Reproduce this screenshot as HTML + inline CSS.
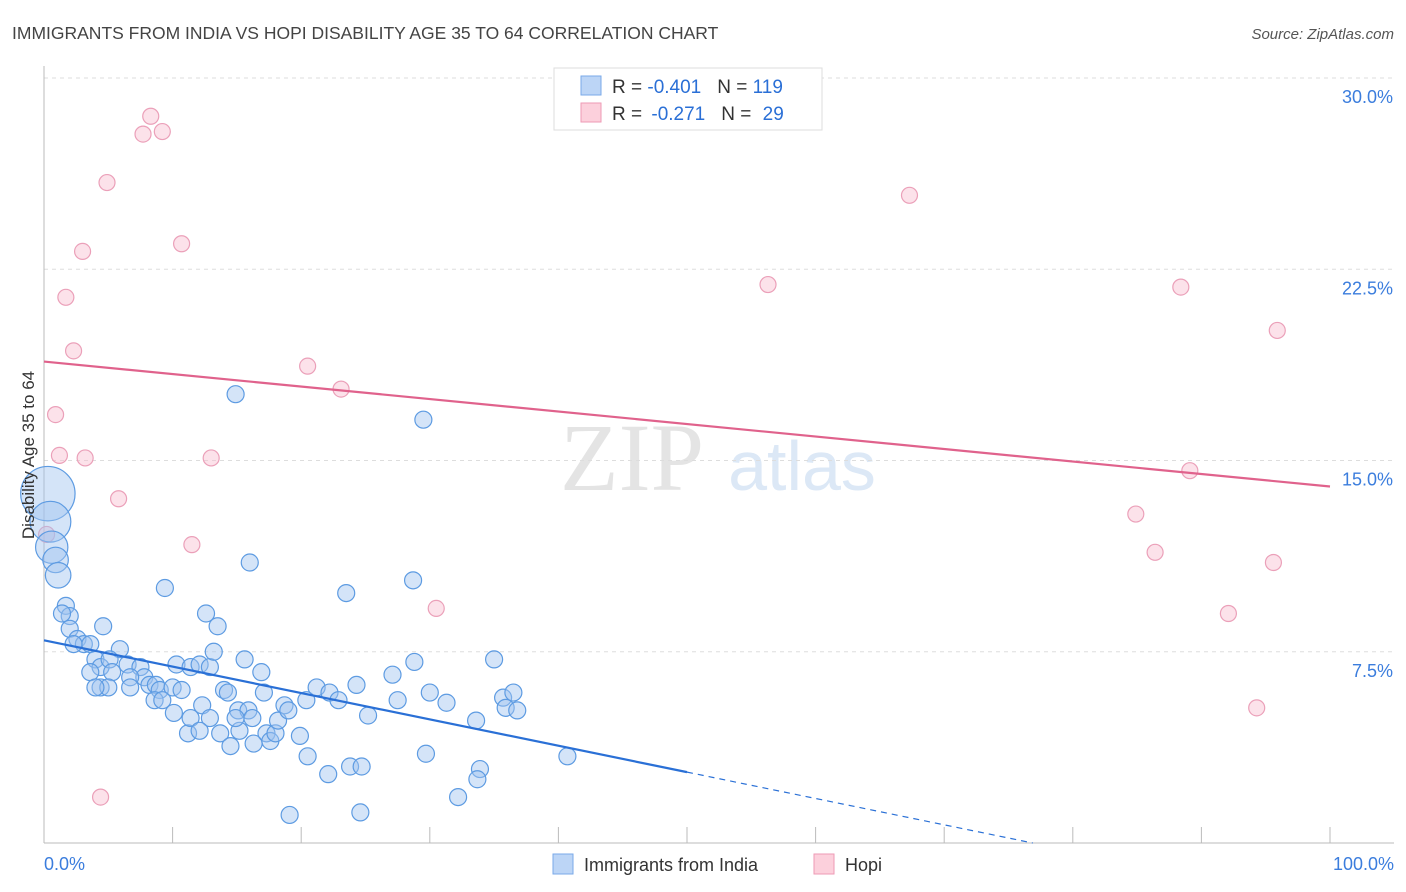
<!DOCTYPE html>
<html><head><meta charset="utf-8"><style>
body{margin:0;background:#fff;font-family:"Liberation Sans",sans-serif;}
svg{display:block}
</style></head><body>
<svg id="chart" width="1406" height="892" viewBox="0 0 1406 892">
<text x="12" y="39" font-size="17.5" fill="#444">IMMIGRANTS FROM INDIA VS HOPI DISABILITY AGE 35 TO 64 CORRELATION CHART</text>
<text x="1394" y="39" font-size="15" fill="#555" font-style="italic" text-anchor="end">Source: ZipAtlas.com</text>
<g>
<text x="632" y="490" font-size="96" font-family="Liberation Serif,serif" fill="#e4e4e4" text-anchor="middle">ZIP</text>
<text x="802" y="490" font-size="70" fill="#dce8f6" text-anchor="middle">atlas</text>
</g>
<g id="grid"></g>
<g id="axes"></g>
<g id="marks"></g>
<text transform="translate(34,455) rotate(-90)" font-size="17" fill="#333" text-anchor="middle">Disability Age 35 to 64</text>
<g>
<rect x="554" y="68" width="268" height="62" fill="#fff" stroke="#ddd"/>
<rect x="581" y="76" width="20" height="19" fill="#bcd5f6" stroke="#7aa9e8"/>
<rect x="581" y="103" width="20" height="19" fill="#fcd0dc" stroke="#ee9ab5"/>
<text x="612" y="93" font-size="19" fill="#333">R = <tspan fill="#2a6fd6">-0.401</tspan><tspan dx="16">N = </tspan><tspan fill="#2a6fd6">119</tspan></text>
<text x="612" y="120" font-size="19" fill="#333">R = <tspan fill="#2a6fd6" dx="4">-0.271</tspan><tspan dx="16">N = </tspan><tspan fill="#2a6fd6" dx="6">29</tspan></text>
</g>
<g>
<rect x="553" y="854" width="20" height="20" fill="#bcd5f6" stroke="#7aa9e8"/>
<text x="584" y="871" font-size="18" fill="#333">Immigrants from India</text>
<rect x="814" y="854" width="20" height="20" fill="#fcd0dc" stroke="#ee9ab5"/>
<text x="845" y="871" font-size="18" fill="#333">Hopi</text>
</g>
</svg>
<script>
const yTicks=[7.5,15,22.5,30];
const yTickLabels=["7.5%","15.0%","22.5%","30.0%"];
const xTickLabels=["0.0%","100.0%"];
const indiaX=[0.3,0.5,0.6,0.9,1.1,14.9,29.5,16.0,9.4,23.5,28.7,12.6,1.7,2.0,1.4,2.0,4.6,13.5,2.6,3.1,3.6,5.9,2.3,4.0,4.4,5.1,6.5,7.5,7.8,6.7,5.3,3.6,4.4,5.0,6.7,8.2,8.7,9.0,10.0,10.7,10.3,11.4,12.1,12.9,13.2,15.6,16.9,8.6,9.2,10.1,11.2,11.4,12.3,12.9,14.0,14.3,15.1,15.9,16.2,17.1,18.7,17.3,17.6,18.0,18.2,19.0,19.9,20.4,21.2,22.2,22.9,24.3,25.2,20.5,22.1,23.8,24.7,24.6,27.1,28.8,27.5,30.0,31.3,33.6,29.7,32.2,33.9,33.7,35.0,35.7,35.9,36.5,36.8,40.7,19.1,13.7,14.5,16.3,15.2,12.1,14.9,4.0];
const indiaY=[13.7,12.6,11.6,11.1,10.5,17.6,16.6,11.0,10.0,9.8,10.3,9.0,9.3,8.9,9.0,8.4,8.5,8.5,8.0,7.8,7.8,7.6,7.8,7.2,6.9,7.2,7.0,6.9,6.5,6.5,6.7,6.7,6.1,6.1,6.1,6.2,6.2,6.0,6.1,6.0,7.0,6.9,7.0,6.9,7.5,7.2,6.7,5.6,5.6,5.1,4.3,4.9,5.4,4.9,6.0,5.9,5.2,5.2,4.9,5.9,5.4,4.3,4.0,4.3,4.8,5.2,4.2,5.6,6.1,5.9,5.6,6.2,5.0,3.4,2.7,3.0,3.0,1.2,6.6,7.1,5.6,5.9,5.5,4.8,3.5,1.8,2.9,2.5,7.2,5.7,5.3,5.9,5.2,3.4,1.1,4.3,3.8,3.9,4.4,4.4,4.9,6.1];
const indiaSize=[3.2,2.4,1.9,1.5,1.5];
const hopiX=[8.3,7.7,9.2,4.9,3.0,10.7,1.7,2.3,20.5,23.1,0.9,1.2,3.2,13.0,5.8,11.5,0.2,30.5,4.4,67.3,56.3,88.4,95.9,89.1,84.9,86.4,95.6,92.1,94.3];
const hopiY=[28.5,27.8,27.9,25.9,23.2,23.5,21.4,19.3,18.7,17.8,16.8,15.2,15.1,15.1,13.5,11.7,12.1,9.2,1.8,25.4,21.9,21.8,20.1,14.6,12.9,11.4,11.0,9.0,5.3];
const indiaTrend=[7.95,2.78];
const hopiTrend=[18.88,13.98];
const NS="http://www.w3.org/2000/svg";
const X0=44,X1=1330,Y0=843,Y30=78;
const sx=v=>X0+(X1-X0)*v/100;
const sy=v=>Y0-(Y0-Y30)*v/30;
function mk(tag,attrs,parent){const e=document.createElementNS(NS,tag);for(const k in attrs)e.setAttribute(k,attrs[k]);parent.appendChild(e);return e;}
const grid=document.getElementById('grid'),axes=document.getElementById('axes'),marks=document.getElementById('marks');
yTicks.forEach((t,i)=>{
 const l=mk('line',{x1:X0,x2:1394,y1:sy(t),y2:sy(t),stroke:'#ddd','stroke-dasharray':'4,4'},grid);
 
 
 const tx=mk('text',{x:1393,y:sy(t)+25,'font-size':18,fill:'#3b7ddd','text-anchor':'end'},axes);
 tx.textContent=yTickLabels[i];
 
 
});
const ax=mk('line',{x1:X0,x2:1394,y1:Y0,y2:Y0,stroke:'#bbb'},axes);


const ay=mk('line',{x1:X0,x2:X0,y1:66,y2:Y0,stroke:'#bbb'},axes);


for(let i=0;i<=10;i++){
 const t=mk('line',{x1:sx(i*10),x2:sx(i*10),y1:Y0,y2:Y0-16,stroke:'#bbb'},axes);
 
 
}
[[0,'start',44],[100,'end',1394]].forEach((d,i)=>{
 const t=mk('text',{x:d[2],y:870,'font-size':18,fill:'#3b7ddd','text-anchor':d[1]},axes);
 t.textContent=xTickLabels[i];
 
 
});
hopiX.forEach((x,i)=>{
 const c=mk('circle',{cx:sx(x),cy:sy(hopiY[i]),r:8,fill:'rgba(249,190,208,0.45)',stroke:'#eba0b9','stroke-width':1.2},marks);
 
 
});
indiaX.forEach((x,i)=>{
 const r=8.5*(indiaSize[i]||1);
 const c=mk('circle',{cx:sx(x),cy:sy(indiaY[i]),r:r,fill:'rgba(160,196,240,0.45)',stroke:'#5d9be2','stroke-width':1.2},marks);
 
 
});
const slopeI=(indiaTrend[1]-indiaTrend[0])/50;
const zeroX=-indiaTrend[0]/slopeI;
const l1=mk('line',{x1:sx(0),y1:sy(indiaTrend[0]),x2:sx(50),y2:sy(indiaTrend[1]),stroke:'#2a70d6','stroke-width':2.2},marks);


const l2=mk('line',{x1:sx(50),y1:sy(indiaTrend[1]),x2:sx(zeroX),y2:sy(0),stroke:'#2a70d6','stroke-width':1.2,'stroke-dasharray':'6,5'},marks);


const l3=mk('line',{x1:sx(0),y1:sy(hopiTrend[0]),x2:sx(100),y2:sy(hopiTrend[1]),stroke:'#e0628c','stroke-width':2.2},marks);


</script>
</body></html>
